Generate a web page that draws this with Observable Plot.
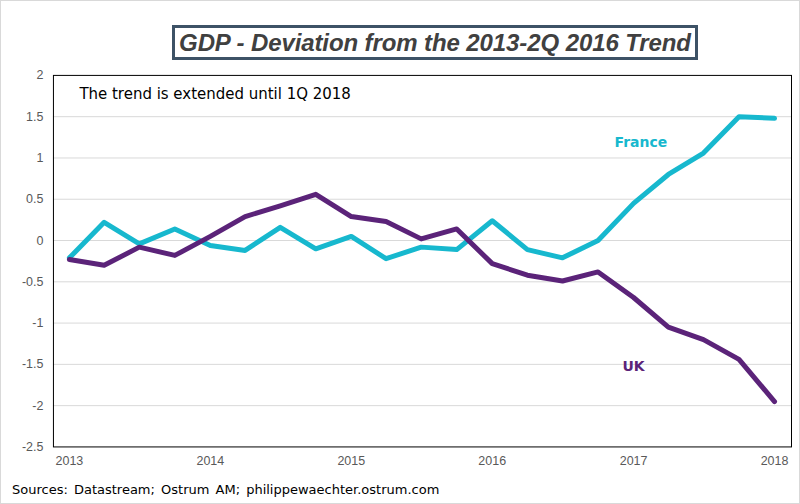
<!DOCTYPE html>
<html>
<head>
<meta charset="utf-8">
<script src="https://cdn.jsdelivr.net/npm/d3@7"></script>
<script src="https://cdn.jsdelivr.net/npm/@observablehq/plot@0.6"></script>
<style>
  body { margin: 0; background: white; }
  #wrap { position: relative; width: 798px; height: 502px; border: 1px solid #d9d9d9; overflow: hidden; background: white; }
  #chart { position: absolute; left: -1px; top: -1px; }
  #title { position: absolute; left: 171px; top: 24px; width: 520px; height: 29px; border: 3px solid #3d5266;
           font: italic bold 24px "Liberation Sans", Arial, sans-serif; color: #404040; text-align: center; line-height: 29px; letter-spacing: -0.1px; }
  #caption { position: absolute; left: 11px; top: 481px; font: 13px "DejaVu Sans", Verdana, sans-serif; color: #000; word-spacing: 2px; }
</style>
</head>
<body>
<div id="wrap">
  <div id="chart"></div>
  <div id="title">GDP - Deviation from the 2013-2Q 2016 Trend</div>
  <div id="caption">Sources: Datastream; Ostrum AM; philippewaechter.ostrum.com</div>
</div>
<script>
const quarters = ["2013-01-01","2013-04-01","2013-07-01","2013-10-01",
                  "2014-01-01","2014-04-01","2014-07-01","2014-10-01",
                  "2015-01-01","2015-04-01","2015-07-01","2015-10-01",
                  "2016-01-01","2016-04-01","2016-07-01","2016-10-01",
                  "2017-01-01","2017-04-01","2017-07-01","2017-10-01",
                  "2018-01-01"];
const france = [-0.21, 0.22, -0.04, 0.14, -0.06, -0.12, 0.16, -0.10, 0.05, -0.22,
                -0.08, -0.11, 0.24, -0.11, -0.21, 0.00, 0.45, 0.80, 1.06, 1.50, 1.48];
const uk = [-0.23, -0.30, -0.08, -0.18, 0.05, 0.29, 0.42, 0.56, 0.29, 0.23,
            0.02, 0.14, -0.28, -0.42, -0.49, -0.38, -0.69, -1.05, -1.20, -1.44, -1.95];
const yearTicks = ["2013","2014","2015","2016","2017","2018"];
const yTicks = [-2.5, -2, -1.5, -1, -0.5, 0, 0.5, 1, 1.5, 2];
const seriesLabels = [
  {name: "France", date: "2017-01-20", value: 1.19, color: "#17b8ce"},
  {name: "UK", date: "2017-01-01", value: -1.53, color: "#5b2379"}
];
const note = "The trend is extended until 1Q 2018";

const parse = d3.utcParse("%Y-%m-%d");
const dates = quarters.map(parse);
const frData = dates.map((d, i) => ({date: d, value: france[i]}));
const ukData = dates.map((d, i) => ({date: d, value: uk[i]}));
const yearDates = yearTicks.map(y => parse(y + "-01-01"));
const labels = seriesLabels.map(l => ({...l, date: parse(l.date)}));

const chart = Plot.plot({
  width: 800,
  height: 504,
  marginLeft: 53,
  marginRight: 8,
  marginTop: 75,
  marginBottom: 57,
  style: {fontFamily: "'Liberation Sans', Arial, sans-serif", fontSize: "12px", color: "#595959", background: "transparent"},
  x: {type: "utc", domain: [dates[0], dates[dates.length - 1]], insetLeft: 16, insetRight: 17, label: null},
  y: {domain: [-2.5, 2], label: null},
  marks: [
    Plot.gridY(yTicks.filter(t => t > -2.5 && t < 2), {stroke: "#d9d9d9", strokeOpacity: 1, strokeWidth: 1}),
    Plot.axisY(yTicks, {tickSize: 0, tickPadding: 10, tickFormat: d => String(d), fill: "#595959", fontSize: 12.5, label: null}),
    Plot.axisX(yearDates, {tickSize: 0, tickPadding: 9, tickFormat: d3.utcFormat("%Y"), fill: "#595959", fontSize: 12.5, label: null}),
    Plot.line(frData, {x: "date", y: "value", stroke: "#17b8ce", strokeWidth: 5, strokeLinejoin: "round", strokeLinecap: "round"}),
    Plot.line(ukData, {x: "date", y: "value", stroke: "#5b2379", strokeWidth: 5, strokeLinejoin: "round", strokeLinecap: "round"}),
    Plot.text(labels, {x: "date", y: "value", text: "name", fill: "color", fontWeight: "bold", fontSize: 14, fontFamily: "'DejaVu Sans', Verdana, sans-serif"}),
    Plot.text([note], {frameAnchor: "top-left", dx: 26, dy: 13, text: d => d, fill: "#000", fontSize: 15, fontFamily: "'DejaVu Sans', Verdana, sans-serif", textAnchor: "start", lineAnchor: "top"}),
    Plot.frame({stroke: "#000", strokeWidth: 1})
  ]
});
document.getElementById("chart").appendChild(chart);
</script>
</body>
</html>
